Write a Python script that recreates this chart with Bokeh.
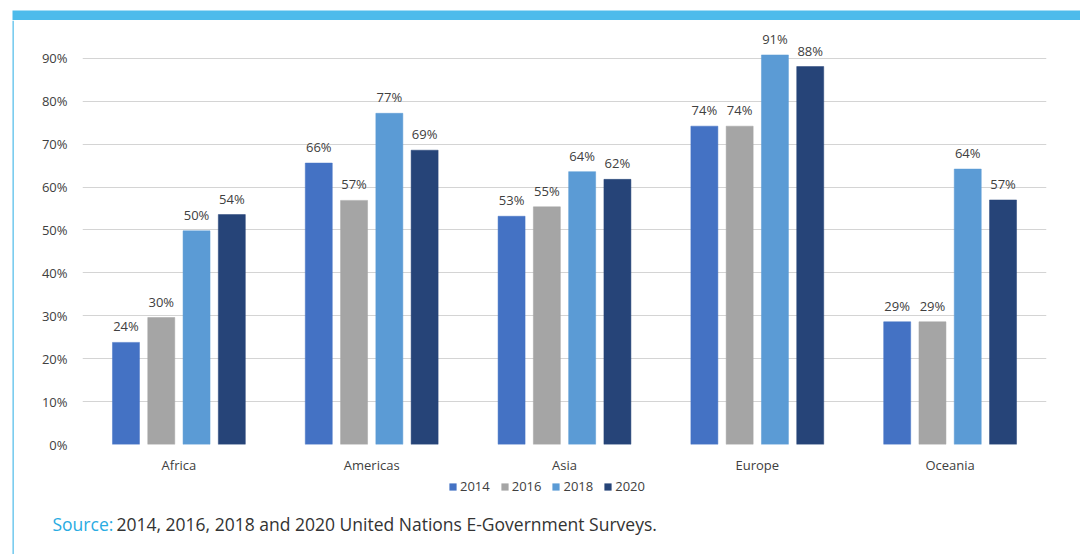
from bokeh.plotting import figure
from bokeh.layouts import column, row
from bokeh.models import (FactorRange, Range1d, FixedTicker, PrintfTickFormatter,
                          Legend, LegendItem, Label, BoxAnnotation, ColumnDataSource)
from bokeh.transform import dodge
from bokeh.core.properties import value
from bokeh.embed import file_html
from bokeh.resources import INLINE

regions = ["Africa", "Americas", "Asia", "Europe", "Oceania"]
years = ["2014", "2016", "2018", "2020"]
v2014 = [23.8, 65.6, 53.2, 74.2, 28.6]
v2016 = [29.6, 56.9, 55.4, 74.2, 28.6]
v2018 = [49.8, 77.2, 63.6, 90.8, 64.2]
v2020 = [53.6, 68.6, 61.8, 88.1, 57.0]
series = [v2014, v2016, v2018, v2020]
colors = ["#4472c4", "#a5a5a5", "#5b9bd5", "#264478"]
y_ticks = [0, 10, 20, 30, 40, 50, 60, 70, 80, 90]
source_head = "Source:"
source_body = "2014, 2016, 2018 and 2020 United Nations E-Government Surveys."

FONT = "Open Sans"
TXT = "#404040"
BAND = "#4dbbeb"
RULE = "#5bc0eb"


def blank(w, h):
    f = figure(width=w, height=h, x_range=Range1d(0, w), y_range=Range1d(0, h),
               output_backend="svg", toolbar_location=None, frame_align=False,
               min_border=0, min_border_left=0, min_border_right=0,
               min_border_top=0, min_border_bottom=0)
    f.axis.visible = False
    f.grid.visible = False
    f.outline_line_color = None
    return f


# top band
top = blank(1080, 20)
top.add_layout(BoxAnnotation(left=12, right=1080, bottom=0, top=10,
                             fill_color=BAND, fill_alpha=1, line_color=None))

# left rule
strip = blank(14, 534)
strip.add_layout(BoxAnnotation(left=12, right=13.3, fill_color=RULE, fill_alpha=1,
                               line_color=None))

# main chart
MAIN_H = 456
p = figure(width=1066, height=MAIN_H, x_range=FactorRange(*regions),
           y_range=Range1d(0, 96.5), output_backend="svg", toolbar_location=None,
           frame_align=False,
           min_border_left=68, min_border_right=34, min_border_top=10, min_border_bottom=31)
p.outline_line_color = None

offsets = [-0.2745, -0.0915, 0.0915, 0.2745]
for yr, vals, col, off in zip(years, series, colors, offsets):
    src = ColumnDataSource(dict(region=regions, v=vals,
                                lab=[f"{int(v + 0.5)}%" for v in vals]))
    p.vbar(x=dodge("region", off, range=p.x_range), top="v", width=0.14,
           source=src, fill_color=col, line_color=col, line_width=0.5)
    p.text(x=dodge("region", off, range=p.x_range), y="v", text="lab", source=src,
           text_align="center", text_baseline="middle", y_offset=-16,
           text_font=value(FONT), text_font_size="13px", text_color=TXT)

p.yaxis.ticker = FixedTicker(ticks=y_ticks)
p.yaxis.formatter = PrintfTickFormatter(format="%d%%")
for ax in (p.xaxis[0], p.yaxis[0]):
    ax.axis_line_color = None
    ax.major_tick_line_color = None
    ax.minor_tick_line_color = None
    ax.major_label_text_font = FONT
    ax.major_label_text_font_size = "13px"
    ax.major_label_text_color = TXT
p.yaxis.major_label_standoff = 9
p.xaxis.major_label_standoff = 5
p.xgrid.grid_line_color = None
p.ygrid.grid_line_color = "#d4d4d4"
p.ygrid.grid_line_width = 1.2

# footer: legend + source note (legend swatches use off-canvas proxy squares)
FOOT_H = 534 - MAIN_H
foot = blank(1066, FOOT_H)
items = []
for yr, col in zip(years, colors):
    r = foot.quad(left=[-30], right=[-20], top=[-20], bottom=[-30],
                  fill_color=col, line_color=None)
    items.append(LegendItem(label=yr, renderers=[r]))
legend = Legend(items=items, orientation="horizontal", location=(434, 59),
                glyph_width=9, glyph_height=9, label_height=12, label_standoff=3,
                spacing=10, padding=0, margin=0, border_line_color=None,
                background_fill_alpha=0, label_text_font=FONT,
                label_text_font_size="13px", label_text_color=TXT)
foot.add_layout(legend, "center")
foot.add_layout(Label(x=38, y=31, text=source_head, text_font=FONT,
                      text_font_size="17.5px", text_color="#29abe2",
                      text_baseline="middle"))
foot.add_layout(Label(x=102, y=31, text=source_body, text_font=FONT,
                      text_font_size="17.5px", text_color="#333333",
                      text_baseline="middle"))

layout = column(top, row(strip, column(p, foot)))
open("out.html", "w").write(file_html(layout, INLINE))
